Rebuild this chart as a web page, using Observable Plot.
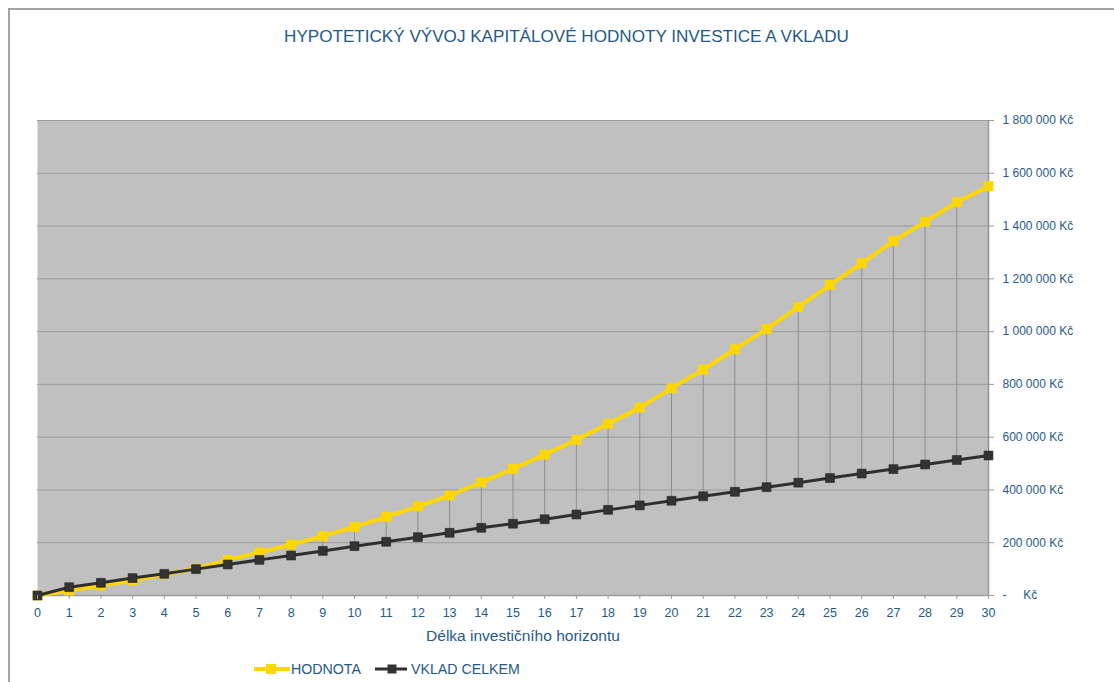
<!DOCTYPE html>
<html>
<head>
<meta charset="utf-8">
<script src="https://cdn.jsdelivr.net/npm/d3@7"></script>
<script src="https://cdn.jsdelivr.net/npm/@observablehq/plot@0.6"></script>
<style>
  html, body { margin: 0; padding: 0; background: #fff; }
  #wrap { position: relative; width: 1114px; height: 682px; overflow: hidden; font-family: "Liberation Sans", Arial, sans-serif; color: #1f5a8a; }
  #border { position: absolute; left: 8px; top: 8px; width: 1200px; height: 800px; border-left: 2px solid #a3a3a3; border-top: 2px solid #a3a3a3; }
  #title { position: absolute; left: 0; width: 1133px; top: 27px; text-align: center; font-size: 17.1px; line-height: 20px; white-space: nowrap; }
  #chart { position: absolute; left: 0; top: 100px; }
  #xlabel { position: absolute; left: 0; width: 1046px; top: 626px; text-align: center; font-size: 15.5px; line-height: 20px; white-space: nowrap; }
  #legend { position: absolute; top: 660px; left: 0; height: 18px; }
  .item { position: absolute; top: 0; height: 18px; font-size: 14.2px; line-height: 18px; white-space: nowrap; }
  .item svg { position: absolute; top: 0; }
</style>
</head>
<body>
<div id="wrap">
  <div id="border"></div>
  <div id="title">HYPOTETICKÝ VÝVOJ KAPITÁLOVÉ HODNOTY INVESTICE A VKLADU</div>
  <div id="chart"></div>
  <div id="xlabel">Délka investičního horizontu</div>
  <div id="legend"></div>
</div>
<script>
const years = [0,1,2,3,4,5,6,7,8,9,10,11,12,13,14,15,16,17,18,19,20,21,22,23,24,25,26,27,28,29,30];
const hodnota = [0,19000,38000,57000,80000,102000,135000,163000,193000,225000,260000,298000,338000,379000,429000,480000,534000,590000,651000,712000,786000,856000,933000,1010000,1093000,1177000,1259000,1343000,1416000,1490000,1551000];
const vklad = [0,31500,48000,66000,82000,100000,117500,135000,151500,169000,187000,203500,221000,237500,256500,272000,289000,307000,324500,341500,359000,376000,393000,410500,427500,445000,462000,479000,496500,513500,530500];
const yTicks = [0,200000,400000,600000,800000,1000000,1200000,1400000,1600000,1800000];
const seriesNames = ["HODNOTA", "VKLAD CELKEM"];
const seriesColors = ["#ffd700", "#2f2f2f"];

const data = years.map((x, i) => ({x, h: hodnota[i], v: vklad[i]}));
const fmt = d => d === 0 ? "-\u00a0\u00a0\u00a0\u00a0\u00a0Kč" : d3.format(",")(d).replace(/,/g, " ") + " Kč";

const chart = Plot.plot({
  width: 1114,
  height: 520,
  marginLeft: 37,
  marginRight: 126,
  marginTop: 20,
  marginBottom: 25,
  style: {fontFamily: "'Liberation Sans', Arial, sans-serif", color: "#1f5a8a", background: "transparent", overflow: "visible"},
  x: {domain: [0, 30]},
  y: {domain: [0, 1800000]},
  marks: [
    Plot.frame({fill: "#c0c0c0", stroke: null}),
    Plot.ruleY(yTicks.filter(d => d > 0), {stroke: "#9b9b9b", strokeWidth: 1}),
    Plot.ruleY([0], {stroke: "#9b9b9b", strokeWidth: 1.5}),
    Plot.ruleX([30], {stroke: "#9b9b9b", strokeWidth: 1.5}),
    Plot.ruleX(data, {x: "x", y1: "v", y2: "h", stroke: "#8e8e8e", strokeWidth: 1}),
    Plot.line(data, {x: "x", y: "h", stroke: seriesColors[0], strokeWidth: 4}),
    Plot.dot(data, {x: "x", y: "h", symbol: "square", r: 5.6, fill: seriesColors[0], stroke: null}),
    Plot.line(data, {x: "x", y: "v", stroke: seriesColors[1], strokeWidth: 3}),
    Plot.dot(data, {x: "x", y: "v", symbol: "square", r: 5, fill: "#333333", stroke: "#222", strokeWidth: 0.6}),
    Plot.axisX({ticks: years, tickFormat: d => String(d), tickSize: 4, tickPadding: 9, stroke: "#9b9b9b", fill: "#1f5a8a", fontSize: 12.5, label: null}),
    Plot.axisY({anchor: "right", ticks: yTicks, tickFormat: fmt, tickSize: 5, tickPadding: 9, stroke: "#9b9b9b", fill: "#1f5a8a", fontSize: 12, label: null})
  ]
});
document.getElementById("chart").appendChild(chart);

// legend
const legend = document.getElementById("legend");
const legendPos = [{line: [254, 290], mark: 271, size: 10, w: 4, text: 291}, {line: [375, 407], mark: 392, size: 9, w: 3, text: 411}];
seriesNames.forEach((name, i) => {
  const p = legendPos[i];
  const item = document.createElement("div");
  item.className = "item";
  item.style.left = p.line[0] + "px";
  const sw = p.line[1] - p.line[0];
  item.innerHTML = `<svg width="${sw}" height="18"><line x1="0" x2="${sw}" y1="9" y2="9" stroke="${seriesColors[i]}" stroke-width="${p.w}"/><rect x="${p.mark - p.line[0] - p.size/2}" y="${9 - p.size/2}" width="${p.size}" height="${p.size}" fill="${i === 0 ? seriesColors[0] : '#333'}"/></svg><span style="position:absolute;left:${p.text - p.line[0]}px;top:0">${name}</span>`;
  legend.appendChild(item);
});
</script>
</body>
</html>
